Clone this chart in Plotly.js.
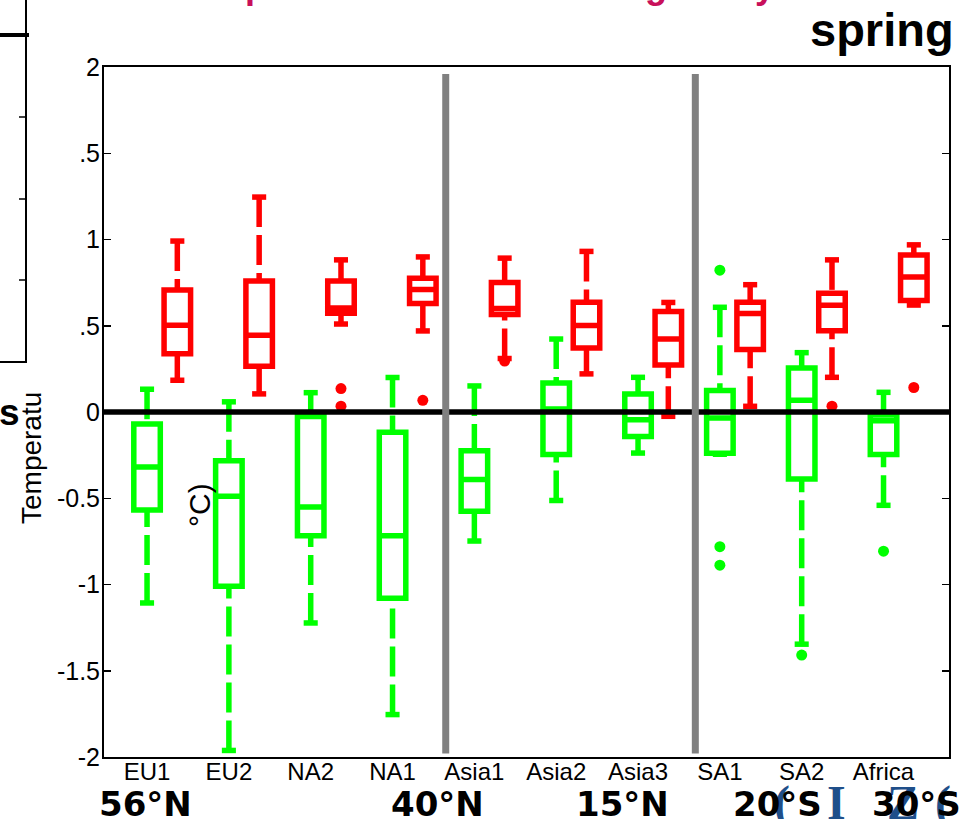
<!DOCTYPE html>
<html>
<head>
<meta charset="utf-8">
<script src="https://cdn.plot.ly/plotly-3.0.1.min.js"></script>
<style>html,body{margin:0;padding:0;background:#fff;}#chart{width:965px;height:819px;}</style>
</head>
<body>
<div id="chart"></div>
<script>
// ---- data ----
var categories = ['EU1','EU2','NA2','NA1','Asia1','Asia2','Asia3','SA1','SA2','Africa'];

// green series
var greenLower  = [-1.107,-1.962,-1.223,-1.754,-0.748,-0.513,-0.238,-0.245,-1.346,-0.541];
var greenQ1     = [-0.568,-1.010,-0.717,-1.079,-0.576,-0.247,-0.142,-0.239,-0.388,-0.247];
var greenMedian = [-0.319,-0.488,-0.550,-0.717,-0.392, 0.017,-0.045,-0.035, 0.068,-0.051];
var greenQ3     = [-0.070,-0.283,-0.026,-0.118,-0.224, 0.168, 0.105, 0.124, 0.255,-0.017];
var greenUpper  = [ 0.132, 0.059, 0.112, 0.200, 0.151, 0.423, 0.201, 0.607, 0.344, 0.114];
var greenOutlierCat = ['SA1','SA1','SA1','SA2','Africa'];
var greenOutlierVal = [0.822,-0.781,-0.888,-1.409,-0.807];

// red series
var redLower  = [0.184,0.105,0.510,0.470,0.310,0.221,-0.025,0.033,0.201,0.620];
var redQ1     = [0.337,0.265,0.572,0.629,0.565,0.371, 0.273,0.363,0.471,0.646];
var redMedian = [0.503,0.445,0.603,0.710,0.600,0.501, 0.423,0.571,0.619,0.783];
var redQ3     = [0.707,0.760,0.760,0.775,0.751,0.636, 0.583,0.636,0.688,0.910];
var redUpper  = [0.991,1.246,0.882,0.899,0.892,0.931, 0.635,0.738,0.882,0.969];
var redOutlierCat = ['NA2','NA2','NA1','Asia1','SA2','Africa'];
var redOutlierVal = [0.136,0.034,0.068,0.295,0.034,0.142];

// y tick labels as shown
var yTickVals = [2,1.5,1,0.5,0,-0.5,-1,-1.5,-2];
var yTickText = ['2','.5','1','.5','0','-0.5','-1','-1.5','-2'];

// group separators (between category positions)
var separators = [4.65, 7.70];

// latitude labels under the axis
var latLabels = ['56°N','40°N','15°N','20°S','30°S'];

// ---- construction ----
var GREEN = '#00ff00', RED = '#ff0000';
var redOffset = 0.37, boxWidth = 0.324, capHalf = 0.086;
var catPos = categories.map(function(c,i){return i+1;});
var greenX = catPos.slice();
var redX = catPos.map(function(p){return p+redOffset;});

function boxTrace(xs,q1,med,q3,color){
  return {type:'box', x:xs, q1:q1, median:med, q3:q3, lowerfence:q1, upperfence:q3,
    width:boxWidth, whiskerwidth:0, boxpoints:false, fillcolor:'rgba(255,255,255,0)',
    line:{color:color,width:5.5}, hoverinfo:'skip', showlegend:false};
}
function whiskerTrace(xs,lo,q1,q3,hi,color){
  var x=[],y=[];
  for(var i=0;i<xs.length;i++){
    if(hi[i]>q3[i]){x.push(xs[i],xs[i],null);y.push(hi[i],q3[i],null);}
    if(lo[i]<q1[i]){x.push(xs[i],xs[i],null);y.push(lo[i],q1[i],null);}
  }
  return {type:'scatter',mode:'lines',x:x,y:y,line:{color:color,width:5.5,dash:'30px,8px'},
    hoverinfo:'skip',showlegend:false,connectgaps:false};
}
function capTrace(xs,lo,hi,color){
  var x=[],y=[];
  for(var i=0;i<xs.length;i++){
    x.push(xs[i]-capHalf,xs[i]+capHalf,null);y.push(hi[i],hi[i],null);
    x.push(xs[i]-capHalf,xs[i]+capHalf,null);y.push(lo[i],lo[i],null);
  }
  return {type:'scatter',mode:'lines',x:x,y:y,line:{color:color,width:5.5},
    hoverinfo:'skip',showlegend:false,connectgaps:false};
}
function outlierTrace(cats,vals,off,color){
  return {type:'scatter',mode:'markers',
    x:cats.map(function(c){return categories.indexOf(c)+1+off;}), y:vals,
    marker:{symbol:'circle',size:11,color:color}, hoverinfo:'skip', showlegend:false};
}

var data = [
  whiskerTrace(greenX,greenLower,greenQ1,greenQ3,greenUpper,GREEN),
  capTrace(greenX,greenLower,greenUpper,GREEN),
  boxTrace(greenX,greenQ1,greenMedian,greenQ3,GREEN),
  outlierTrace(greenOutlierCat,greenOutlierVal,0,GREEN),
  whiskerTrace(redX,redLower,redQ1,redQ3,redUpper,RED),
  capTrace(redX,redLower,redUpper,RED),
  boxTrace(redX,redQ1,redMedian,redQ3,RED),
  outlierTrace(redOutlierCat,redOutlierVal,redOffset,RED)
];

// page geometry helpers (plot area: left 104, top 67, 845 x 690)
var L=104,T=67,W=845,H=690;
function px(x){return (x-L)/W;}
function py(y){return (T+H-y)/H;}

var shapes = [
  {type:'line',xref:'paper',yref:'y',x0:0,x1:1,y0:0,y1:0,line:{color:'#000',width:5.5},layer:'above'}
];
separators.forEach(function(s){
  shapes.push({type:'line',xref:'x',yref:'y',x0:s,x1:s,y0:-1.98,y1:1.96,line:{color:'#808080',width:7},layer:'above'});
});
// fragment of the neighbouring panel on the left
shapes.push({type:'line',xref:'paper',yref:'paper',x0:px(26),x1:px(26),y0:py(0),y1:py(362),line:{color:'#000',width:2}});
shapes.push({type:'line',xref:'paper',yref:'paper',x0:px(-2),x1:px(27),y0:py(362),y1:py(362),line:{color:'#000',width:2}});
shapes.push({type:'line',xref:'paper',yref:'paper',x0:px(-2),x1:px(29),y0:py(35),y1:py(35),line:{color:'#000',width:4}});
[117,199,280].forEach(function(t){
  shapes.push({type:'line',xref:'paper',yref:'paper',x0:px(19),x1:px(26),y0:py(t),y1:py(t),line:{color:'#000',width:1.5}});
});

var annotations = [];
// partly hidden blue logo behind the lower-right labels
[['(',782],['I',836],['Z',903],['(',943]].forEach(function(g){
  annotations.push({text:'<b>'+g[0]+'</b>',xref:'paper',yref:'paper',x:px(g[1]),y:py(774),xanchor:'center',yanchor:'top',
    showarrow:false,font:{family:'Liberation Serif',size:48,color:'#1f4f8a'}});
});
// descenders of the cut-off magenta title
[['p',256],['g',656],['y',765]].forEach(function(g){
  annotations.push({text:'<b>'+g[0]+'</b>',xref:'paper',yref:'paper',x:px(g[1]),y:py(8),xanchor:'center',yanchor:'bottom',
    showarrow:false,font:{family:'Liberation Sans',size:36,color:'#c8105a'}});
});
var latX = [145,437,622,777,916];
latLabels.forEach(function(t,i){
  annotations.push({text:t,xref:'paper',yref:'paper',x:px(latX[i]),y:py(804),xanchor:'center',yanchor:'middle',
    showarrow:false,font:{family:'DejaVu Sans',size:34,color:'#000',weight:'bold'}});
});
annotations.push({text:'<b>spring</b>',xref:'paper',yref:'paper',x:px(956),y:py(30),xanchor:'right',yanchor:'middle',
  showarrow:false,font:{family:'Liberation Sans',size:47,color:'#000'}});
annotations.push({text:'Temperatu',xref:'paper',yref:'paper',x:px(31),y:py(458),textangle:-90,xanchor:'center',yanchor:'middle',
  showarrow:false,font:{family:'Liberation Sans',size:28,color:'#000'}});
annotations.push({text:'°C)',xref:'paper',yref:'paper',x:px(199),y:py(505),textangle:-90,xanchor:'center',yanchor:'middle',
  showarrow:false,font:{family:'Liberation Sans',size:30,color:'#000'}});
annotations.push({text:'<b>s</b>',xref:'paper',yref:'paper',x:px(22),y:py(413),xanchor:'right',yanchor:'middle',
  showarrow:false,font:{family:'Liberation Sans',size:37,color:'#000'}});

var layout = {
  width:965, height:819,
  margin:{l:L,r:965-L-W,t:T,b:819-T-H,pad:0},
  paper_bgcolor:'#fff', plot_bgcolor:'#fff',
  showlegend:false, boxmode:'overlay',
  font:{family:'Liberation Sans',color:'#000'},
  xaxis:{range:[0.474,10.80],tickvals:catPos,ticktext:categories,ticks:'',showgrid:false,zeroline:false,
    showline:true,linecolor:'#000',linewidth:2,mirror:true,tickfont:{size:24,color:'#000'},ticklabelstandoff:-8},
  yaxis:{range:[-2,2],tickvals:yTickVals,ticktext:yTickText,ticks:'inside',ticklen:7,tickwidth:1.5,tickcolor:'#000',
    showgrid:false,zeroline:false,showline:true,linecolor:'#000',linewidth:2,mirror:'ticks',
    tickfont:{size:25,color:'#000'},ticklabelstandoff:-3},
  shapes:shapes, annotations:annotations
};

Plotly.newPlot('chart',data,layout,{staticPlot:true,displayModeBar:false});
</script>
</body>
</html>
